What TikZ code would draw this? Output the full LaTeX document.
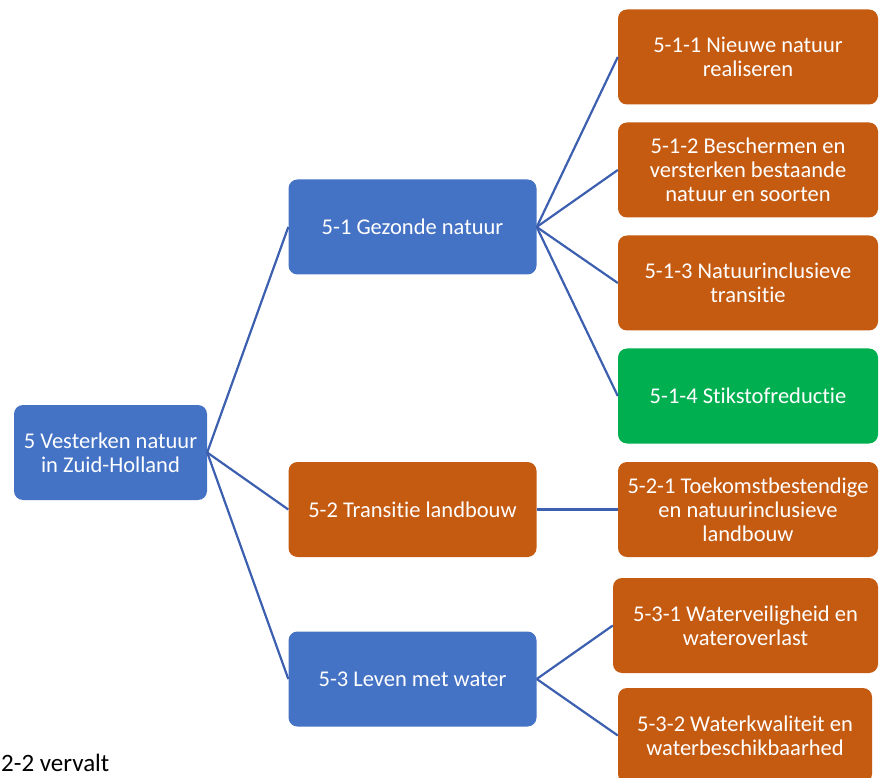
\documentclass[tikz,border=0pt]{standalone}
\usepackage{fontspec}
\setmainfont[Ligatures=NoCommon]{Carlito}
\definecolor{boxblue}{HTML}{4472C4}
\definecolor{boxorange}{HTML}{C55A11}
\definecolor{boxgreen}{HTML}{00B050}
\definecolor{linkblue}{RGB}{60,95,175}
\tikzset{
  box/.style={rounded corners=9pt, text=white, align=center, inner sep=0pt,
    font=\fontsize{22.5}{24}\selectfont, minimum height=95pt},
  topbox/.style={box, fill=boxblue, minimum width=248pt},
  subbox/.style={box, fill=boxorange, minimum width=248pt},
  leafbox/.style={box, fill=boxorange, minimum width=260pt},
  donebox/.style={box, fill=boxgreen, minimum width=260pt},
  link/.style={draw=linkblue, line width=2.2pt},
}
\begin{document}
\begin{tikzpicture}[x=1pt,y=-1pt]
    \path[use as bounding box, clip] (0,0) rectangle (879,778);
    % hoofddoel
    \node[topbox, minimum width=193pt] (root) at (110.5,452.5) {5 Vesterken natuur\\in Zuid-Holland};
    % subdoelen
    \node[topbox] (gezond) at (412.5,227) {5-1 Gezonde natuur};
    \node[subbox] (landbouw) at (412.5,509.5) {5-2 Transitie landbouw};
    \node[topbox] (water) at (412.5,679) {5-3 Leven met water};
    % opgaven
    \node[leafbox] (nieuw) at (748,57) {5-1-1 Nieuwe natuur\\realiseren};
    \node[leafbox] (bescherm) at (748,170) {5-1-2 Beschermen en\\versterken bestaande\\natuur en soorten};
    \node[leafbox] (inclusief) at (748,283) {5-1-3 Natuurinclusieve\\transitie};
    \node[donebox] (stikstof) at (748,396) {5-1-4 Stikstofreductie};
    \node[leafbox] (toekomst) at (748,509.5) {5-2-1 Toekomstbestendige\\en natuurinclusieve\\landbouw};
    \node[leafbox, minimum width=265pt] (veilig) at (745.5,625.5) {5-3-1 Waterveiligheid en\\wateroverlast};
    \node[leafbox, minimum width=254pt] (kwaliteit) at (745,735.5) {5-3-2 Waterkwaliteit en\\waterbeschikbaarhed};
    \node[anchor=base west, inner sep=0pt, font=\fontsize{25}{27}\selectfont] (vervalt) at (1,771) {2-2 vervalt};
    % verbindingen
    \draw[link] (root.east) -- (gezond.west);
    \draw[link] (root.east) -- (landbouw.west);
    \draw[link] (root.east) -- (water.west);
    \draw[link] (gezond.east) -- (nieuw.west);
    \draw[link] (gezond.east) -- (bescherm.west);
    \draw[link] (gezond.east) -- (inclusief.west);
    \draw[link] (gezond.east) -- (stikstof.west);
    \draw[link] (landbouw.east) -- (toekomst.west);
    \draw[link] (water.east) -- (veilig.west);
    \draw[link] (water.east) -- (kwaliteit.west);
\end{tikzpicture}
\end{document}
